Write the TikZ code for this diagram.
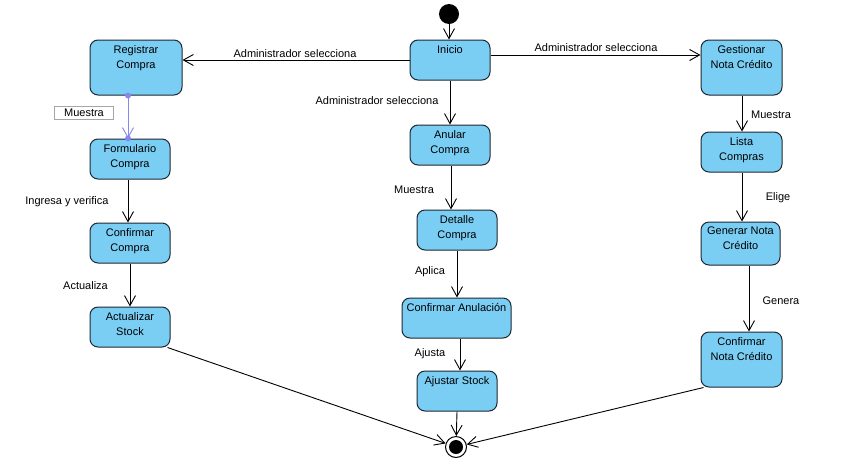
\documentclass[tikz,border=0pt]{standalone}
\usepackage{fontspec}
\setmainfont{Liberation Sans}
\usetikzlibrary{arrows.meta}
\definecolor{vpblue}{RGB}{122,206,244}
\definecolor{vpborder}{RGB}{30,40,50}
\definecolor{vppurple}{RGB}{135,135,240}
\begin{document}
\begin{tikzpicture}[x=1pt,y=-1pt,
 stbox/.style={draw=vpborder, fill=vpblue, rounded corners=8pt, line width=1pt, inner sep=0pt},
 stname/.style={anchor=north, align=center, inner sep=0pt, font=\fontsize{11}{15}\selectfont, yshift=-5.5pt},
 tr/.style={draw=black, line width=0.9pt, -{Straight Barb[length=10pt,width=11pt,line width=0.9pt]}},
 trp/.style={draw=vppurple, line width=0.9pt, -{Straight Barb[length=10pt,width=11pt,line width=0.9pt]}},
 elbl/.style={font=\fontsize{11}{13}\selectfont, inner sep=0pt, yshift=-1.5pt},
]
\useasboundingbox[fill=white] (0,0) rectangle (856,464);

% initial and final
\node[circle, fill=black, minimum size=20pt, inner sep=0pt] (init) at (449,14) {};
\node[circle, draw=black, fill=white, line width=1pt, minimum size=21pt, inner sep=0pt] (fin) at (456,447) {};
\node[circle, fill=black, minimum size=14pt, inner sep=0pt] (finin) at (456,447) {};

% states
\node[stbox, minimum width=80pt, minimum height=40pt, label={[stname]north:{Inicio}}] (inicio) at (450,60) {};
\node[stbox, minimum width=92pt, minimum height=55pt, label={[stname]north:{Registrar\\Compra}}] (reg) at (136,67.5) {};
\node[stbox, minimum width=81pt, minimum height=55pt, label={[stname]north:{Gestionar\\Nota Crédito}}] (gest) at (741.5,67.5) {};
\node[stbox, minimum width=80pt, minimum height=40pt, label={[stname]north:{Formulario\\Compra}}] (form) at (130,159) {};
\node[stbox, minimum width=80pt, minimum height=40pt, label={[stname]north:{Confirmar\\Compra}}] (confc) at (130,243) {};
\node[stbox, minimum width=80pt, minimum height=40pt, label={[stname]north:{Actualizar\\Stock}}] (act) at (130,327) {};
\node[stbox, minimum width=80pt, minimum height=40pt, label={[stname]north:{Anular\\Compra}}] (anular) at (450,145) {};
\node[stbox, minimum width=80pt, minimum height=40pt, label={[stname]north:{Detalle\\Compra}}] (detalle) at (457,230) {};
\node[stbox, minimum width=109pt, minimum height=40pt, label={[stname]north:{Confirmar Anulación}}] (confan) at (456.5,318) {};
\node[stbox, minimum width=80pt, minimum height=40pt, label={[stname]north:{Ajustar Stock}}] (ajustar) at (457,391) {};
\node[stbox, minimum width=81pt, minimum height=40pt, label={[stname]north:{Lista\\Compras}}] (lista) at (741.5,152) {};
\node[stbox, minimum width=79pt, minimum height=43pt, label={[stname]north:{Generar Nota\\Crédito}}] (generar) at (740.5,243.5) {};
\node[stbox, minimum width=81pt, minimum height=55pt, label={[stname]north:{Confirmar\\Nota Crédito}}] (confnc) at (741.5,359.5) {};

% transitions
\draw[tr] (init) -- (inicio.north -| init);
\draw[tr] (inicio.west) -- (reg.east |- inicio.west);
\draw[tr] ([yshift=5pt]inicio.east) -- ([yshift=12.5pt]gest.west);
\draw[tr] (inicio.south) -- (anular.north);
\draw[tr] ([xshift=1pt]anular.south) -- ([xshift=-6pt]detalle.north);
\draw[tr] (detalle.south) -- ([xshift=0.5pt]confan.north);
\draw[tr] ([xshift=3.5pt]confan.south) -- ([xshift=3pt]ajustar.north);
\draw[tr] (ajustar.south) -- (fin);
\draw[tr] ([xshift=-2pt]form.south) -- ([xshift=-2pt]confc.north);
\draw[tr] (confc.south) -- (act.north);
\draw[tr] ([xshift=-3pt]act.south east) -- (fin);
\draw[tr] ([xshift=0.5pt]gest.south) -- ([xshift=0.5pt]lista.north);
\draw[tr] ([xshift=0.5pt]lista.south) -- ([xshift=1.5pt]generar.north);
\draw[tr] ([xshift=8.5pt]generar.south) -- ([xshift=7.5pt]confnc.north);
\draw[tr] ([xshift=3pt]confnc.south west) -- (fin);

% purple transition
\draw[trp] ([xshift=-8pt]reg.south) -- ([xshift=-2pt]form.north);
\fill[vppurple] ([xshift=-8pt]reg.south) circle[radius=3pt];
\fill[vppurple] ([xshift=-2pt]form.north) circle[radius=3pt];

% labels
\node[elbl] (l1) at (295,52) {Administrador selecciona};
\node[elbl] (l2) at (596,46) {Administrador selecciona};
\node[elbl] (l3) at (377,99) {Administrador selecciona};
\node[elbl, draw=black!35, line width=0.6pt, minimum width=59pt, minimum height=13pt] (l4) at (84,111) {Muestra};
\node[elbl] (l5) at (67,200) {Ingresa y verifica};
\node[elbl] (l6) at (85.5,284) {Actualiza};
\node[elbl] (l7) at (414,188) {Muestra};
\node[elbl] (l8) at (430,270) {Aplica};
\node[elbl] (l9) at (430,352) {Ajusta};
\node[elbl] (l10) at (771,113) {Muestra};
\node[elbl] (l11) at (778,196) {Elige};
\node[elbl] (l12) at (781,299) {Genera};
\end{tikzpicture}
\end{document}
